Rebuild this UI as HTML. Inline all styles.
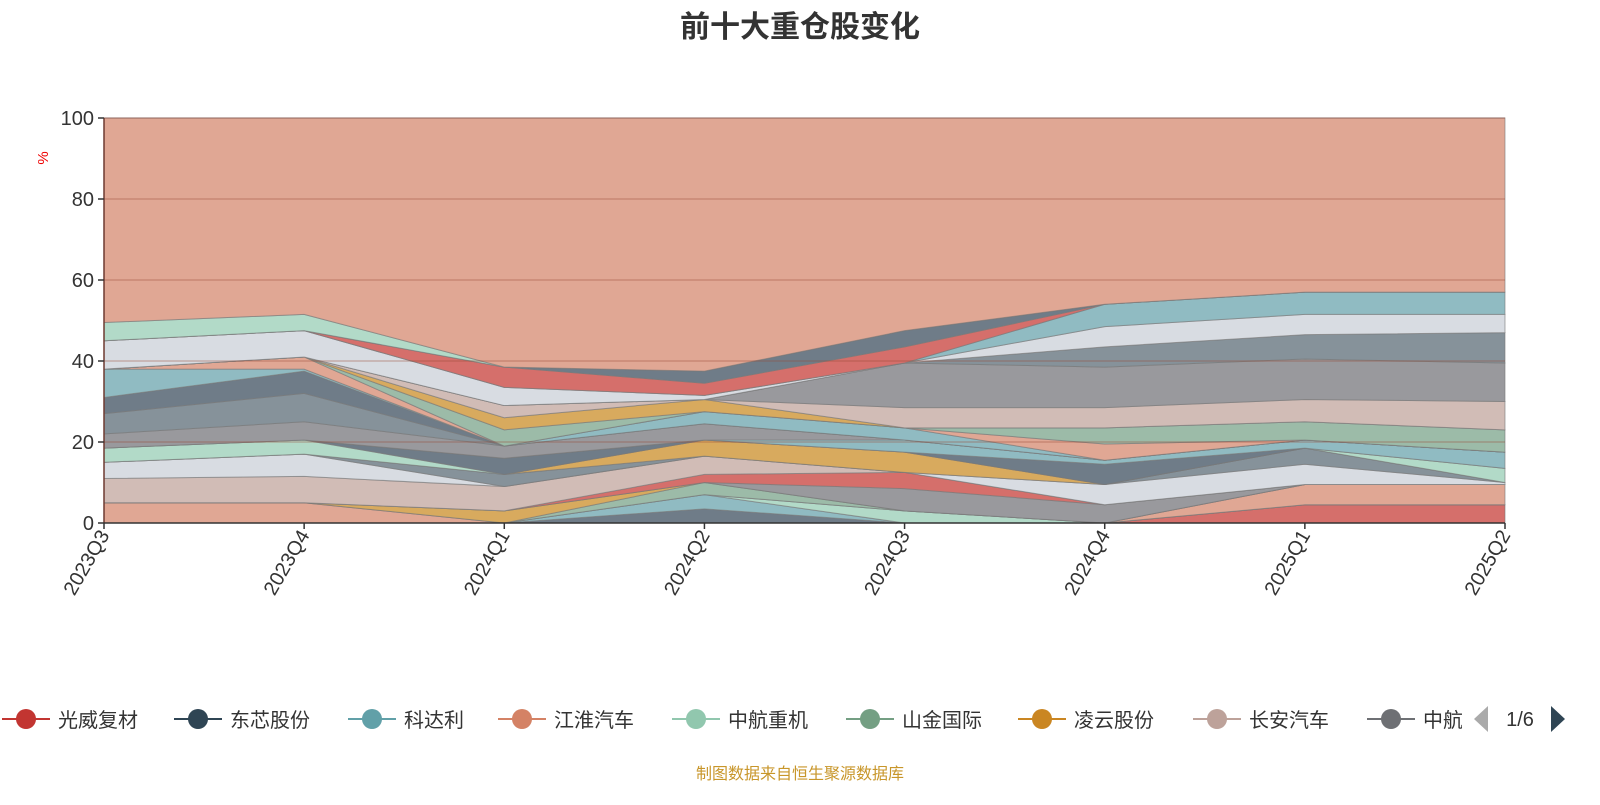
<!DOCTYPE html>
<html><head><meta charset="utf-8"><style>
body{margin:0;background:#fff;width:1600px;height:800px;overflow:hidden;font-family:"Liberation Sans","Noto Sans CJK SC",sans-serif}
</style></head><body>
<svg id="chart" width="1600" height="800" xmlns="http://www.w3.org/2000/svg" font-family="'Liberation Sans','Noto Sans CJK SC',sans-serif">
<text x="800" y="37" text-anchor="middle" font-size="30" font-weight="bold" fill="#333">前十大重仓股变化</text>
<text x="48" y="158" font-size="15" fill="#e00" transform="rotate(-90 48 158)" text-anchor="middle">%</text>
<g id="areas"></g><g id="grid"></g><g id="axes"></g><g id="legend"></g>
<text x="800" y="779" text-anchor="middle" font-size="16" fill="#c8962a">制图数据来自恒生聚源数据库</text>
</svg>
<script>
const categories=["2023Q3","2023Q4","2024Q1","2024Q2","2024Q3","2024Q4","2025Q1","2025Q2"];
const yTicks=[0,20,40,60,80,100];
const seriesColors=["#d56f6b","#6f7c88","#90bbc2","#e0a794","#b2dac8","#9cbba8","#d8aa5e","#d1bcb6","#99999d","#86929a","#d8dce2"];
const s01=[0,0,0,0,0,0,4.5,4.5];
const s02=[0,0,0,3.5,0,0,0,0];
const s03=[0,0,0,3.5,0,0,0,0];
const s04=[0,0,0,0,3,0,0,0];
const s05=[5,5,0,0,0,0,5,5];
const s06=[0,0,0,3,0,0,0,0];
const s07=[0,0,3,0,0,0,0,0];
const s08=[0,0,0,0,5.5,4.5,0,0];
const s09=[0,0,0,2,4,0,0,0];
const s10=[6,6.5,6,4.5,0,0,0,0];
const s11=[4,5.5,0,0,0,5,5,0.5];
const s12=[0,0,3,0,0,0,4,0];
const s13=[0,0,0,4,5,0,0,0];
const s14=[3.5,3.5,0,0,0,0,0,3.5];
const s15=[0,0,4,0,0,5,0,0];
const s16=[0,0,0,0,3,1,2,4];
const s17=[3.5,4.5,3,4,0,0,0,0];
const s18=[5,7,0,0,0,0,0,0];
const s19=[4,5.5,0,0,0,0,0,0];
const s20=[7,0.5,0,3,3,0,0,0];
const s21=[0,3,0,0,0,4,0,0];
const s22=[0,0,4,0,0,4,4.5,5.5];
const s23=[0,0,3,3,0,0,0,0];
const s24=[0,0,3,0,5,5,5.5,7];
const s25=[0,0,0,0,11,10,10,9.5];
const s26=[0,0,0,0,0,5,6,7.5];
const s27=[7,6.5,4.5,1,0,5,5,4.5];
const s28=[0,0,0,0,0,5.5,5.5,5.5];
const s29=[0,0,5,3,4,0,0,0];
const s30=[0,0,0,3,4,0,0,0];
const s31=[4.5,4,0,0,0,0,0,0];
const seriesList=[s01,s02,s03,s04,s05,s06,s07,s08,s09,s10,s11,s12,s13,s14,s15,s16,s17,s18,s19,s20,s21,s22,s23,s24,s25,s26,s27,s28,s29,s30,s31];
const seriesColorIdx=[0,1,2,4,3,5,6,8,0,7,10,9,6,4,1,2,8,9,1,2,3,5,6,7,8,9,10,2,0,1,4];
const legendNames=["光威复材","东芯股份","科达利","江淮汽车","中航重机","山金国际","凌云股份","长安汽车","中航"];
const legendColors=["#c23531","#2f4554","#61a0a8","#d48265","#91c7ae","#749f83","#ca8622","#bda29a","#6e7074"];
const NS="http://www.w3.org/2000/svg";
const X0=104,X1=1505,Y0=523,Y1=118;
const xs=i=>X0+(X1-X0)*i/(categories.length-1);
const ys=v=>Y0-(Y0-Y1)*v/100;
function mk(t,a,p){const e=document.createElementNS(NS,t);for(const k in a)e.setAttribute(k,a[k]);p.appendChild(e);return e;}
const areas=document.getElementById('areas');
let base=categories.map(()=>0);
const all=seriesList.slice();
const other=categories.map((c,i)=>100-seriesList.reduce((s,a)=>s+a[i],0));
all.push(other);
all.forEach((vals,si)=>{
  const top=base.map((b,i)=>b+vals[i]);
  let d="M"+top.map((v,i)=>xs(i)+","+ys(v)).join("L");
  for(let i=categories.length-1;i>=0;i--)d+="L"+xs(i)+","+ys(base[i]);
  d+="Z";
  const col=si<seriesList.length?seriesColors[seriesColorIdx[si]]:"#e0a794";
  const p=mk('path',{d:d,fill:col,stroke:"rgba(120,120,120,0.6)","stroke-width":1},areas);
  
  
  base=top;
});
const grid=document.getElementById('grid');
yTicks.forEach(t=>{
  if(t>0){const l=mk('line',{x1:X0,x2:X1,y1:ys(t),y2:ys(t),stroke:"rgba(150,70,50,0.25)","stroke-width":2},grid);
  }
});
const axes=document.getElementById('axes');
mk('line',{x1:X0,x2:X0,y1:Y1,y2:Y0,stroke:"#6e3a30","stroke-width":1.5},axes);
mk('line',{x1:X0,x2:X1,y1:Y0,y2:Y0,stroke:"#333","stroke-width":1.5},axes);
yTicks.forEach(t=>{
  mk('line',{x1:X0-6,x2:X0,y1:ys(t),y2:ys(t),stroke:"#333","stroke-width":1.5},axes);
  const tx=mk('text',{x:X0-10,y:ys(t)+7,"text-anchor":"end","font-size":20,fill:"#333"},axes);
  tx.textContent=t;
  
  
});
categories.forEach((c,i)=>{
  mk('line',{x1:xs(i),x2:xs(i),y1:Y0,y2:Y0+6,stroke:"#333","stroke-width":1.5},axes);
  const x=xs(i)+6,y=Y0+12;
  const tx=mk('text',{x:x,y:y,"text-anchor":"end","font-size":20,fill:"#333",transform:`rotate(-60 ${x} ${y})`},axes);
  tx.textContent=c;
  
  
});
const lg=document.getElementById('legend');
const lgX=[2,174,348,498,672,846,1018,1193,1367];
legendNames.forEach((n,i)=>{
  const g=mk('g',{},lg);
  
  
  const x=lgX[i];
  mk('line',{x1:x,x2:x+48,y1:719,y2:719,stroke:legendColors[i],"stroke-width":2},g);
  mk('circle',{cx:x+24,cy:719,r:10,fill:legendColors[i]},g);
  const t=mk('text',{x:x+56,y:727,"font-size":20,fill:"#333"},g);t.textContent=n;
});
mk('rect',{x:1462,y:690,width:138,height:60,fill:"#fff"},lg);
const pl=mk('path',{d:"M1488,706L1474,719L1488,732Z",fill:"#aaa"},lg);

const pt=mk('text',{x:1520,y:726,"text-anchor":"middle","font-size":20,fill:"#333"},lg);pt.textContent="1/6";

const pn=mk('path',{d:"M1551,706L1565,719L1551,732Z",fill:"#2f4554"},lg);

</script>
</body></html>
